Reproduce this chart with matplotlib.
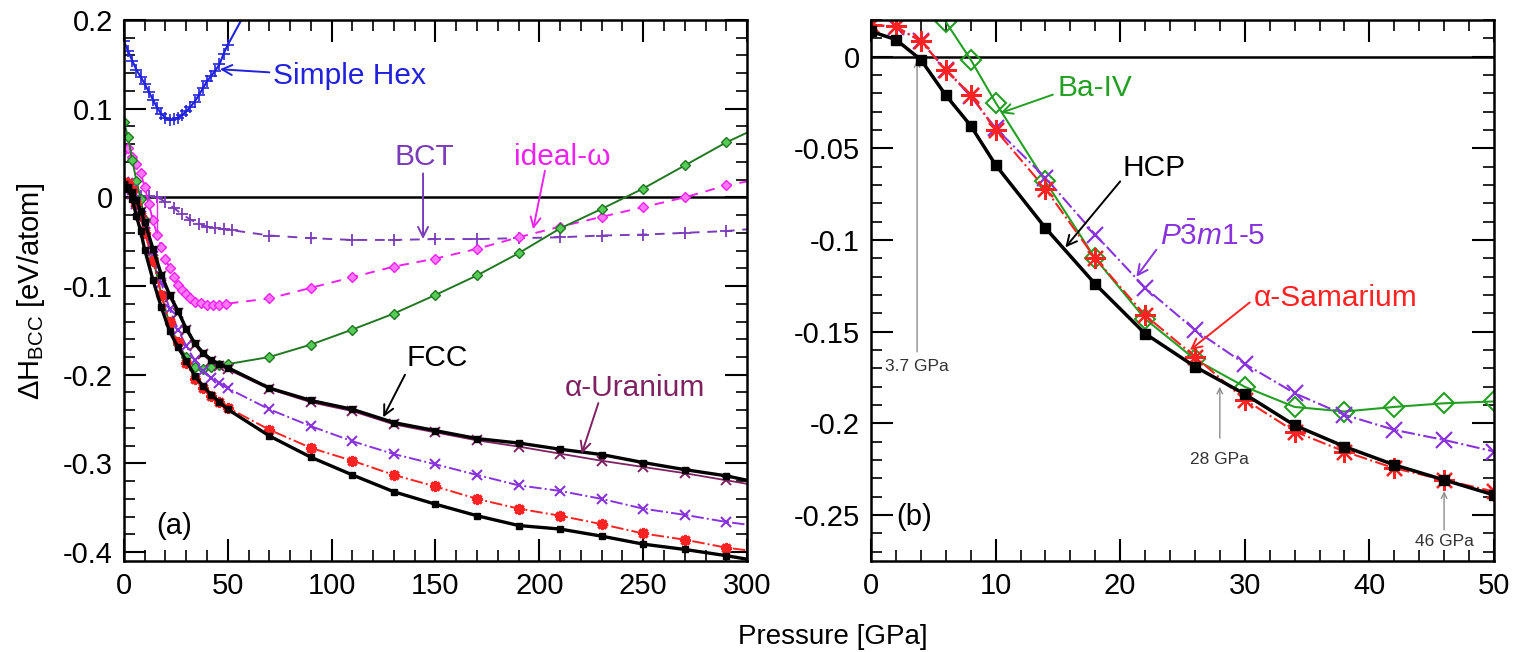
import matplotlib
matplotlib.use("Agg")
import matplotlib.pyplot as plt
from matplotlib.ticker import MultipleLocator

plt.rcParams['font.family'] = ['Liberation Sans', 'DejaVu Sans']
plt.rcParams['mathtext.fontset'] = 'custom'
plt.rcParams['mathtext.rm'] = 'Liberation Sans'
plt.rcParams['mathtext.it'] = 'Liberation Sans:italic'

# ---- data: enthalpy relative to BCC [eV/atom] vs pressure [GPa] ----
p_hex = [0, 2, 4, 6, 8, 10, 12, 14, 16, 18, 20, 22, 24, 26, 28, 30, 32, 34, 36, 38,
         40, 42, 44, 46, 48, 50, 60]
dh_hex = [0.176, 0.165, 0.154, 0.144, 0.136, 0.128, 0.119, 0.110, 0.101, 0.094, 0.090,
          0.087, 0.088, 0.090, 0.093, 0.097, 0.102, 0.108, 0.115, 0.123, 0.131, 0.137,
          0.143, 0.150, 0.162, 0.172, 0.215]

p_bct = [0, 4, 8, 12, 16, 20, 24, 28, 32, 36, 40, 44, 48, 52, 70, 90, 110, 130, 150,
         170, 190, 210, 230, 250, 270, 290, 300]
dh_bct = [0.012, 0.006, 0.002, 0.001, 0.000, -0.005, -0.012, -0.019, -0.025, -0.030,
          -0.033, -0.035, -0.036, -0.037, -0.043, -0.046, -0.048, -0.048, -0.047, -0.047,
          -0.046, -0.045, -0.043, -0.042, -0.040, -0.038, -0.036]

p_omega = [0, 2, 4, 6, 8, 10, 12, 14, 16, 18, 20, 22, 24, 26, 28, 30, 32, 34, 37, 40,
           43, 46, 49, 70, 90, 110, 130, 150, 170, 190, 210, 230, 250, 270, 290, 300]
dh_omega = [0.053, 0.056, 0.046, 0.038, 0.027, 0.012, -0.008, -0.026, -0.042, -0.056,
            -0.069, -0.080, -0.090, -0.099, -0.104, -0.109, -0.114, -0.118, -0.119,
            -0.121, -0.121, -0.121, -0.120, -0.114, -0.102, -0.090, -0.078, -0.069,
            -0.058, -0.045, -0.033, -0.022, -0.011, 0.000, 0.0135, 0.018]
omega_mark_p = 15.7
omega_mark_dh = [-0.04, 0.0]

p_lo = [0, 2, 4, 6, 8, 10, 14, 18, 22, 26, 30, 34, 38, 42, 46, 50]
p_hi = [70, 90, 110, 130, 150, 170, 190, 210, 230, 250, 270, 290, 300]
p_all = p_lo + p_hi

dh_baiv = [0.085, 0.068, 0.042, 0.019, -0.0016, -0.025, -0.068, -0.110, -0.143,
           -0.165, -0.180, -0.191, -0.1935, -0.191, -0.189, -0.188,
           -0.180, -0.166, -0.149, -0.131, -0.110, -0.088, -0.063, -0.035, -0.013,
           0.010, 0.036, 0.062, 0.073]

dh_fcc = [0.015, 0.012, 0.006, -0.003, -0.015, -0.028, -0.058, -0.087, -0.110, -0.128,
          -0.148, -0.164, -0.175, -0.183, -0.188, -0.192,
          -0.215, -0.229, -0.239, -0.254, -0.263, -0.272, -0.277, -0.284, -0.290,
          -0.299, -0.307, -0.314, -0.319]

dh_auran = [0.013, 0.010, 0.004, -0.005, -0.017, -0.030, -0.060, -0.089, -0.112, -0.130,
            -0.150, -0.166, -0.177, -0.185, -0.190, -0.194,
            -0.216, -0.231, -0.241, -0.256, -0.265, -0.274, -0.281, -0.289, -0.297,
            -0.304, -0.311, -0.319, -0.323]

dh_p3m1 = [0.0172, 0.0162, 0.0085, -0.007, -0.0215, -0.039, -0.066, -0.097, -0.126,
           -0.149, -0.1675, -0.1835, -0.1953, -0.2035, -0.209, -0.2153,
           -0.239, -0.258, -0.275, -0.2895, -0.301, -0.313, -0.3247, -0.331, -0.340,
           -0.351, -0.358, -0.366, -0.369]

dh_asm = [0.0175, 0.0165, 0.0084, -0.0071, -0.0207, -0.040, -0.072, -0.110, -0.141,
          -0.1635, -0.187, -0.2044, -0.2153, -0.2244, -0.2308, -0.2371,
          -0.262, -0.2825, -0.297, -0.313, -0.326, -0.340, -0.351, -0.359, -0.3685,
          -0.379, -0.386, -0.395, -0.398]

dh_hcp = [0.0138, 0.0093, -0.0016, -0.021, -0.0376, -0.059, -0.0934, -0.124, -0.151,
          -0.169, -0.184, -0.201, -0.2126, -0.2226, -0.2308, -0.239,
          -0.269, -0.293, -0.313, -0.332, -0.346, -0.359, -0.370, -0.374, -0.382,
          -0.391, -0.397, -0.404, -0.408]

transition_p = [3.7, 28, 46]
transition_labels = ['3.7 GPa', '28 GPa', '46 GPa']

# colours
c_hex = '#2222dd'
c_bct = '#7a3cb8'
c_omega = '#ee22ee'
c_baiv = '#23a023'
c_auran = '#7f2262'
c_p3m1 = '#8833dd'
c_asm = '#ff2222'
c_gray = '#8c8c8c'

FS = 21
FS_LAB = 21.5
fig = plt.figure(figsize=(15.19, 6.52), dpi=100)
ax1 = fig.add_axes([0.0816, 0.1396, 0.4102, 0.8297])
ax2 = fig.add_axes([0.5734, 0.1396, 0.4101, 0.8297])

no_last = slice(0, -1)

# ---------------- panel (a) ----------------
ax1.axhline(0, color='black', lw=1.8, zorder=1)
ax1.plot(p_hex, dh_hex, '-', color=c_hex, lw=1.5, marker='+', ms=8, mew=1.2)
ax1.plot(p_bct, dh_bct, '--', color=c_bct, lw=1.4, marker='+', ms=8, mew=1.3,
         dashes=(5, 4), markevery=no_last)
ax1.plot(p_omega, dh_omega, '--', color=c_omega, lw=1.4, marker='D', ms=5,
         mfc='#ff77ff', mec=c_omega, dashes=(5, 4), markevery=no_last)
ax1.vlines(omega_mark_p, omega_mark_dh[0], omega_mark_dh[1], color=c_omega, lw=1.0)
ax1.plot(p_all, dh_baiv, '-', color='#227722', lw=1.4, marker='D', ms=5,
         mfc='#55cc55', mec='#227722', markevery=no_last)
ax1.plot(p_all, dh_p3m1, '-.', color=c_p3m1, lw=1.4, marker='x', ms=7, mew=1.5,
         markevery=no_last)
ax1.plot(p_all, dh_asm, '-.', color=c_asm, lw=1.4, marker=(8, 2, 0), ms=8, mew=2.2,
         markevery=no_last)
ax1.plot(p_all, dh_auran, '-', color=c_auran, lw=1.3, marker='x', ms=7, mew=1.4,
         markevery=no_last)
ax1.plot(p_all, dh_fcc, '-', color='black', lw=2.4, marker='s', ms=5,
         markevery=no_last)
ax1.plot(p_all, dh_hcp, '-', color='black', lw=2.4, marker='s', ms=5,
         markevery=no_last)

ax1.set_xlim(0, 300)
ax1.set_ylim(-0.41, 0.2)
ax1.xaxis.set_major_locator(MultipleLocator(50))
ax1.xaxis.set_minor_locator(MultipleLocator(10))
ax1.yaxis.set_minor_locator(MultipleLocator(0.02))
ax1.set_yticks([0.2, 0.1, 0, -0.1, -0.2, -0.3, -0.4])
ax1.set_yticklabels(['0.2', '0.1', '0', '-0.1', '-0.2', '-0.3', '-0.4'])


def label(ax, txt, xy_text, tip, start, color, size=FS_LAB, ha='center'):
    ax.annotate('', xy=tip, xytext=start,
                arrowprops=dict(arrowstyle='->', color=color, lw=1.4,
                                shrinkA=0, shrinkB=0, mutation_scale=18))
    ax.text(xy_text[0], xy_text[1], txt, color=color, fontsize=size,
            ha=ha, va='center')


label(ax1, 'Simple Hex', (71.7, 0.137), (46.2, 0.1445), (70, 0.141), c_hex, ha='left')
label(ax1, 'BCT', (144.5, 0.045), (144, -0.047), (144, 0.027), c_bct)
label(ax1, 'ideal-\u03c9', (211, 0.045), (197, -0.036), (202.7, 0.030), c_omega)
label(ax1, 'FCC', (151, -0.181), (124.8, -0.248), (135.3, -0.200), 'black')
label(ax1, '\u03b1-Uranium', (246, -0.215), (220.4, -0.289), (228.4, -0.232), c_auran)
ax1.text(24, -0.370, '(a)', fontsize=FS, ha='center', va='center')

# ---------------- panel (b) ----------------
ax2.axhline(0, color='black', lw=1.8, zorder=1)
ax2.plot(p_all, dh_baiv, '-', color=c_baiv, lw=1.5, marker='D', ms=10,
         mfc='none', mec=c_baiv, mew=1.5)
ax2.plot(p_all, dh_p3m1, '-.', color=c_p3m1, lw=1.5, marker='x', ms=12, mew=1.6)
ax2.plot(p_all, dh_asm, '-.', color=c_asm, lw=1.5, marker=(8, 2, 0), ms=15, mew=1.6)
ax2.plot(p_all, dh_hcp, '-', color='black', lw=2.5, marker='s', ms=7, zorder=4)

ax2.set_xlim(0, 50)
ax2.set_ylim(-0.275, 0.02)
ax2.xaxis.set_major_locator(MultipleLocator(10))
ax2.xaxis.set_minor_locator(MultipleLocator(2))
ax2.set_yticks([0, -0.05, -0.1, -0.15, -0.2, -0.25])
ax2.set_yticklabels(['0', '-0.05', '-0.1', '-0.15', '-0.2', '-0.25'])
ax2.yaxis.set_minor_locator(MultipleLocator(0.01))

label(ax2, 'Ba-IV', (18, -0.0171), (10.4, -0.0307), (14.6, -0.0207), c_baiv)
label(ax2, 'HCP', (22.7, -0.0607), (15.6, -0.104), (20, -0.068), 'black')
label(ax2, r'$P\bar{3}m\mathit{1}$-5', (27.4, -0.098), (21.3, -0.120), (22.9, -0.1053),
      c_p3m1)
label(ax2, '\u03b1-Samarium', (37.3, -0.1316), (25.6, -0.160), (30.4, -0.134), c_asm)
ax2.text(3.5, -0.2508, '(b)', fontsize=FS, ha='center', va='center')

# pressure markers
arrow_spans = [(-0.161, -0.002), (-0.208, -0.180), (-0.258, -0.237)]
text_y = [-0.169, -0.2195, -0.2644]
for p, lab, (y0, y1), ty in zip(transition_p, transition_labels, arrow_spans, text_y):
    ax2.annotate('', xy=(p, y1), xytext=(p, y0),
                 arrowprops=dict(arrowstyle='->', color=c_gray, lw=1.0,
                                 shrinkA=0, shrinkB=0, mutation_scale=10))
    ax2.text(p, ty, lab, fontsize=12.5, color='#333333', ha='center', va='center')

for ax in (ax1, ax2):
    ax.tick_params(which='both', direction='in', top=True, right=True,
                   labelsize=FS, pad=8)
    ax.tick_params(which='major', length=16, width=1.5)
    ax.tick_params(which='minor', length=8, width=1.2)
    for s in ax.spines.values():
        s.set_linewidth(1.8)

fig.text(0.0205, 0.553, r'$\Delta$H$_{\mathrm{BCC}}$ [eV/atom]', rotation=90,
         fontsize=FS, ha='center', va='center')
fig.text(0.548, 0.023, 'Pressure [GPa]', fontsize=20, ha='center', va='center')

fig.savefig('out.png', dpi=100)
